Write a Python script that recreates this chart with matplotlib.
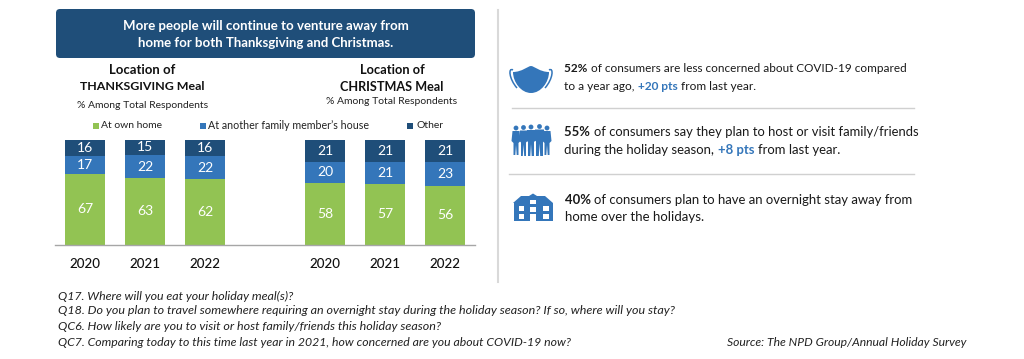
import matplotlib
matplotlib.use("Agg")
import matplotlib.pyplot as plt
import numpy as np
from matplotlib.patches import FancyBboxPatch, Rectangle, Circle, PathPatch, Polygon
from matplotlib.path import Path

plt.rcParams['font.family'] = ['Lato', 'DejaVu Sans']

# ---- data ----
years = ['2020', '2021', '2022', '2020', '2021', '2022']
positions = [0, 1, 2, 4, 5, 6]
own_home = [67, 63, 62, 58, 57, 56]
family_house = [17, 22, 22, 20, 21, 23]
other = [16, 15, 16, 21, 21, 21]
series_names = ['At own home', 'At another family member\u2019s house', 'Other']

DARK, BLUE, GREEN = '#1F4E79', '#3476BA', '#92C353'
W, H = 1024, 359
fig = plt.figure(figsize=(W / 100, H / 100), dpi=100, facecolor='white')
bg = fig.add_axes([0, 0, 1, 1])
bg.set_xlim(0, W); bg.set_ylim(H, 0); bg.axis('off')
r = fig.canvas.get_renderer()

def fit(x, y, s, width, ha='left', **kw):
    t = bg.text(x, y, s, va='center', ha=ha, fontsize=10, **kw)
    w = t.get_window_extent(r).width
    t.set_fontsize(10 * width / w)
    return t

def runs(x, y, parts, size, width=None):
    if width is not None:
        total = 0
        for s, weight, col in parts:
            t = bg.text(0, 0, s, fontsize=10, fontweight=weight)
            total += t.get_window_extent(r).width
            t.remove()
        size = 10 * width / total
    for s, weight, col in parts:
        t = bg.text(x, y, s, va='center', ha='left', fontsize=size, fontweight=weight, color=col)
        x += t.get_window_extent(r).width

# ---- chart ----
ax = fig.add_axes([55 / W, 1 - 244.5 / H, 420 / W, 105 / H])
ax.set_xlim(-0.5, 6.5); ax.set_ylim(0, 100)
ax.patch.set_alpha(0)
tot = np.array(own_home) + np.array(family_house) + np.array(other)
bottom = np.zeros(6)
for vals, col in zip([own_home, family_house, other], [GREEN, BLUE, DARK]):
    h = np.array(vals) / tot * 100
    ax.bar(positions, h, width=40 / 60, bottom=bottom, color=col, linewidth=0)
    for p, b, hh, v in zip(positions, bottom, h, vals):
        ax.text(p, b + hh / 2, str(v), ha='center', va='center', color='white', fontsize=10)
    bottom += h
for s in ['top', 'left', 'right']:
    ax.spines[s].set_visible(False)
ax.spines['bottom'].set_color('#A6A6A6'); ax.spines['bottom'].set_linewidth(1.0)
ax.set_yticks([])
ax.set_xticks(positions); ax.set_xticklabels(years, fontsize=9.6, color='#111111', fontweight='medium')
ax.tick_params(axis='x', length=0, pad=9.5)

# ---- header ----
bg.add_patch(FancyBboxPatch((59, 12), 413, 43, boxstyle='round,pad=3,rounding_size=4',
                            fc=DARK, ec='none'))
fit(265.5, 26, 'More people will continue to venture away from', 287, ha='center', color='white', fontweight='bold')
fit(265.5, 43, 'home for both Thanksgiving and Christmas.', 256, ha='center', color='white', fontweight='bold')

# ---- subtitles ----
fit(142.5, 70, 'Location of', 66, ha='center', fontweight='bold', color='#111111')
fit(142.5, 87, 'THANKSGIVING Meal', 125, ha='center', fontweight='bold', color='#111111')
fit(142.5, 105, '% Among Total Respondents', 132, ha='center', color='#222222')
fit(392, 70, 'Location of', 65, ha='center', fontweight='bold', color='#111111')
fit(392, 87, 'CHRISTMAS Meal', 103, ha='center', fontweight='bold', color='#111111')
fit(392, 102, '% Among Total Respondents', 132, ha='center', color='#222222')

# ---- legend ----
for sx, tx, tw, col, name in zip([93, 199.5, 407], [101, 208, 416.5], [62, 160, 27],
                                 [GREEN, BLUE, DARK], series_names):
    bg.add_patch(Rectangle((sx, 122.5), 6, 6, fc=col, ec='none'))
    fit(tx, 125.5, name, tw, color='#222222')

# ---- dividers ----
bg.plot([498, 498], [10, 282], color='#D9D9D9', lw=1.5)
bg.plot([512, 914], [108, 108], color='#D0D0D0', lw=1.0)
bg.plot([509, 914], [174, 174], color='#D0D0D0', lw=1.0)

# ---- right-hand text ----
TXT = '#1a1a1a'
runs(564.5, 69, [('52% ', 'bold', TXT), ('of consumers are less concerned about COVID-19 compared', 'normal', TXT)], 9.5, width=342)
runs(564.5, 86, [('to a year ago, ', 'normal', TXT), ('+20 pts ', 'bold', BLUE), ('from last year.', 'normal', TXT)], 9.5, width=190)
runs(564.5, 132.5, [('55% ', 'bold', TXT), ('of consumers say they plan to host or visit family/friends', 'normal', TXT)], 9.5, width=354)
runs(564.5, 149.5, [('during the holiday season, ', 'normal', TXT), ('+8 pts ', 'bold', BLUE), ('from last year.', 'normal', TXT)], 9.5, width=277)
runs(565, 200, [('40% ', 'bold', TXT), ('of consumers plan to have an overnight stay away from', 'normal', TXT)], 9.5, width=347)
runs(565, 217, [('home over the holidays.', 'normal', TXT)], 9.5, width=139)

# ---- icons ----
# mask
mv = [(513, 72), (522, 72), (528, 66), (531, 66), (534, 66), (540, 72), (549, 72),
      (549, 82), (541, 93), (531, 93), (521, 93), (513, 82), (513, 72), (513, 72)]
mc = [Path.MOVETO] + [Path.CURVE4] * 12 + [Path.CLOSEPOLY]
bg.add_patch(PathPatch(Path(mv, mc), fc=BLUE, ec='none'))
for xs in ([513, 508, 509, 517], [549, 554, 553, 545]):
    bg.add_patch(PathPatch(Path(list(zip(xs, [70, 67, 79, 88])), [Path.MOVETO] + [Path.CURVE4] * 3),
                           fc='none', ec=BLUE, lw=1.1))
# people
for cx, top, hw, bot in [(516, 126, 3.5, 155), (523.5, 125.5, 3.5, 156), (531, 125, 4, 156),
                         (539.5, 124.5, 4.5, 156), (547, 126, 3.5, 155)]:
    bg.add_patch(Circle((cx, top + 2), 2.4, fc=BLUE, ec='none'))
    bg.add_patch(Polygon([(cx - hw, top + 5), (cx + hw, top + 5), (cx + hw + 1, top + 15),
                          (cx + hw - 1, top + 17), (cx + hw - 1, bot), (cx + .7, bot), (cx, top + 19),
                          (cx - .7, bot), (cx - hw + 1, bot), (cx - hw + 1, top + 17), (cx - hw - 1, top + 15)],
                         fc=BLUE, ec='none'))
# house
bg.add_patch(Polygon([(513, 203), (521, 196), (529, 196), (533, 193.5), (537, 196), (545, 196), (553, 203),
                      (553, 221), (514, 221), (514, 203)], fc=BLUE, ec='none'))
for x0, y0, ww, hh in [(519, 206, 5, 4.5), (530, 200, 5.5, 4), (530, 207, 5.5, 5), (543, 206, 6, 4.5),
                       (519, 213.5, 5, 5), (530, 214, 5.5, 7), (543, 213.5, 6, 5)]:
    bg.add_patch(Rectangle((x0, y0), ww, hh, fc='white', ec='none'))

# ---- footnotes ----
FN = '#222222'
fit(58, 296, 'Q17. Where will you eat your holiday meal(s)?', 237, fontstyle='italic', color=FN)
fit(58, 311, 'Q18. Do you plan to travel somewhere requiring an overnight stay during the holiday season? If so, where will you stay?', 617, fontstyle='italic', color=FN)
fit(58, 327, 'QC6. How likely are you to visit or host family/friends this holiday season?', 383, fontstyle='italic', color=FN)
fit(58, 342, 'QC7. Comparing today to this time last year in 2021, how concerned are you about COVID-19 now?', 510, fontstyle='italic', color=FN)
fit(727, 342, 'Source: The NPD Group/Annual Holiday Survey', 241, fontstyle='italic', color=FN)

fig.savefig('out.png', dpi=100, facecolor='white')
